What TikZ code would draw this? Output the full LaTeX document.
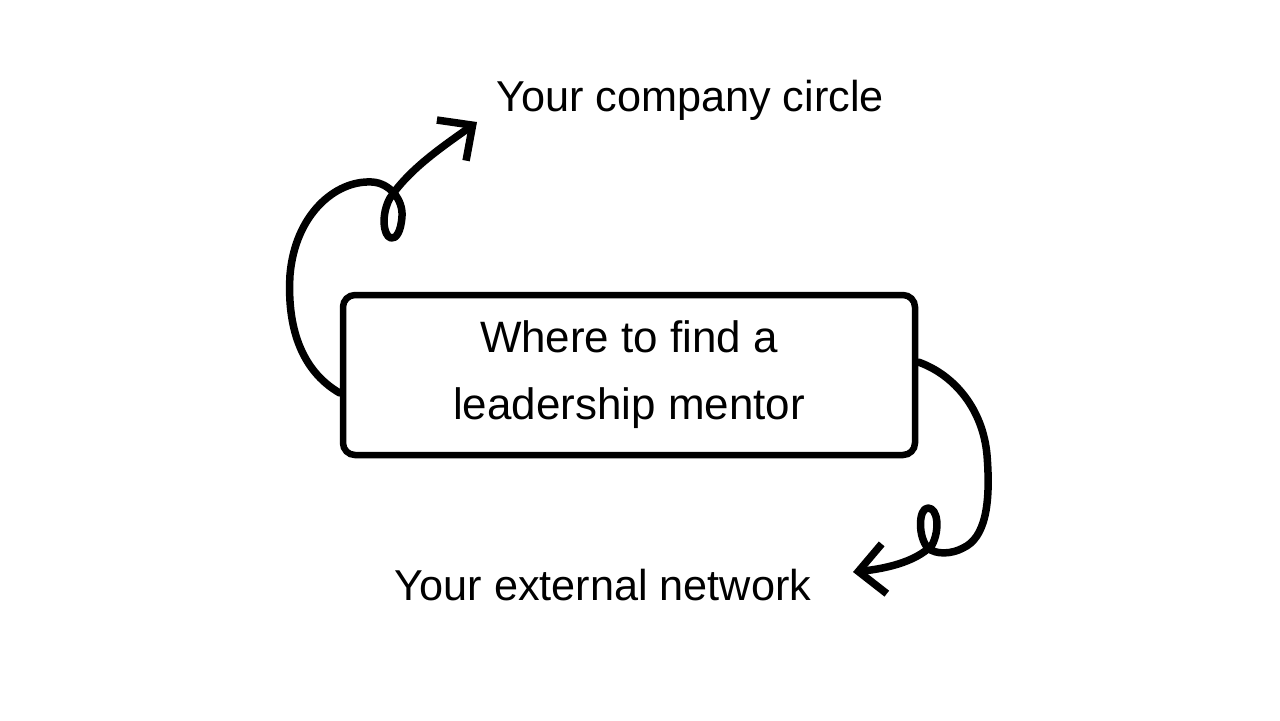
\documentclass[tikz,border=0pt]{standalone}
\usepackage{fontspec}
\setmainfont{Liberation Sans}
\usetikzlibrary{arrows.meta}

\tikzset{
  mentorbox/.style={draw, line width=0.65mm, rounded corners=1.2mm, minimum width=57.2mm, minimum height=16mm, align=center, font=\fontsize{12.5}{19}\selectfont},
  placetext/.style={font=\fontsize{12.3}{15}\selectfont},
  curl/.style={line width=0.75mm, line cap=round, line join=round}
}

\begin{document}
\begin{tikzpicture}[x=0.1mm, y=-0.1mm, >={Straight Barb[length=2.6mm, width=5mm]}]
		%\draw [help lines] (0,0) grid (1280,720);
		\useasboundingbox (0,0) rectangle (1280,720);
		\node [mentorbox] (mentor) at (629,375) {Where to find a\\leadership mentor};
		\node [placetext] (company) at (690,100) {Your company circle};
		\node [placetext] (external) at (603,585) {Your external network};
		\coordinate (company tip) at (477,122);
		\coordinate (external tip) at (853,572);
		\draw [curl, ->] ([yshift=-1.8mm]mentor.west) .. controls (300,370) and (287,325) .. (290,275)
			.. controls (295,215) and (335,180) .. (372,182)
			.. controls (390,183) and (403,200) .. (402,216)
			.. controls (401,232) and (396,239) .. (391,238)
			.. controls (383,236) and (381,214) .. (390,198)
			.. controls (410,168) and (445,145) .. (company tip);
		\draw [curl, ->] ([yshift=1.3mm]mentor.east) .. controls (955,375) and (983,410) .. (987,455)
			.. controls (991,505) and (985,538) .. (963,548)
			.. controls (952,554) and (936,555) .. (928,548)
			.. controls (918,538) and (918,508) .. (928,508)
			.. controls (938,508) and (940,530) .. (932,545)
			.. controls (915,563) and (882,569) .. (external tip);
	\end{tikzpicture}
\end{document}
